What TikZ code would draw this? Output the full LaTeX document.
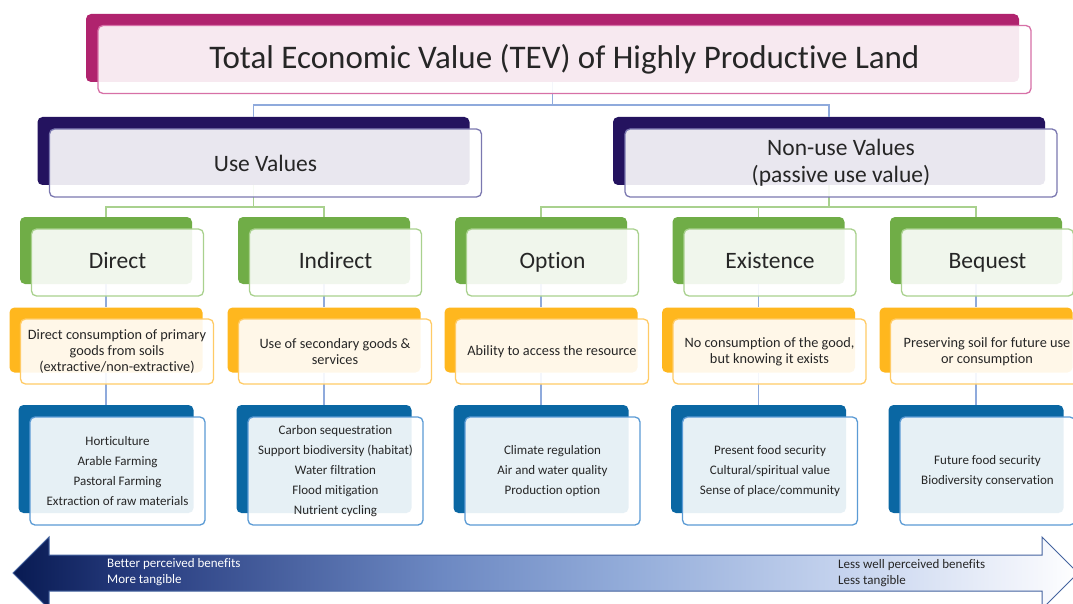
\documentclass[tikz,border=0pt]{standalone}
\usepackage{fontspec}
\setmainfont{Carlito}[Ligatures=CommonOff]

\definecolor{textgray}{HTML}{262626}
\definecolor{tevmagenta}{HTML}{B0236E}
\definecolor{tevmagentaline}{HTML}{D770A7}
\definecolor{tevnavy}{HTML}{24135F}
\definecolor{tevnavyline}{HTML}{7B78B0}
\definecolor{tevgreen}{HTML}{70AD47}
\definecolor{tevgreenline}{HTML}{A9D18E}
\definecolor{tevyellow}{HTML}{FFB71E}
\definecolor{tevyellowline}{HTML}{FFCB66}
\definecolor{tevblue}{HTML}{0A67A3}
\definecolor{tevblueline}{HTML}{5B9BD5}
\definecolor{linkblue}{HTML}{8FAADC}
\definecolor{linkgreen}{HTML}{A9D18E}
\definecolor{arrowA}{HTML}{081A52}
\definecolor{arrowB}{HTML}{283D80}
\definecolor{arrowC}{HTML}{6C88C2}
\definecolor{arrowD}{HTML}{94ADDA}
\definecolor{arrowE}{HTML}{C5D3EE}
\definecolor{arrowF}{HTML}{F4F6FC}
\definecolor{arrowedge}{HTML}{44639F}

\pgfdeclarehorizontalshading{tevarrowshade}{100bp}{color(0bp)=(arrowA); color(25bp)=(arrowA);
  color(31bp)=(arrowB); color(45bp)=(arrowC); color(54bp)=(arrowD); color(64bp)=(arrowE);
  color(73bp)=(arrowF); color(75bp)=(white); color(100bp)=(white)}

\tikzset{
  backbox/.style={fill=#1, rounded corners=5, inner sep=0},
  frontbox/.style={draw=#1, line width=1.3, fill=white, fill opacity=0.9, text opacity=1,
    rounded corners=5, inner sep=0, align=center, text=textgray},
  titlesize/.style={minimum width=933, minimum height=68},
  groupsize/.style={minimum width=432, minimum height=68},
  typesize/.style={minimum width=172, minimum height=67, text height=16, text depth=5},
  defsize/.style={minimum width=193, minimum height=65},
  exsize/.style={minimum width=175, minimum height=108},
  bluelink/.style={draw=linkblue, line width=1.5},
  greenlink/.style={draw=linkgreen, line width=1.5}
}

\begin{document}
\begin{tikzpicture}[x=1pt, y=-1pt]
\clip (0,0) rectangle (1073,604);
\fill[white] (0,0) rectangle (1073,604);

% back boxes
\node[backbox=tevmagenta, titlesize] (title) at (552.5,48) {};
\node[backbox=tevnavy, groupsize] (use) at (253.5,151) {};
\node[backbox=tevnavy, groupsize] (nonuse) at (829,151) {};

\node[backbox=tevgreen, typesize] (direct) at (106,250.5) {};
\node[backbox=tevgreen, typesize] (indirect) at (324,250.5) {};
\node[backbox=tevgreen, typesize] (option) at (541,250.5) {};
\node[backbox=tevgreen, typesize] (existence) at (758.5,250.5) {};
\node[backbox=tevgreen, typesize] (bequest) at (976,250.5) {};

\node[backbox=tevyellow, defsize] (directdef) at (106,340) {};
\node[backbox=tevyellow, defsize] (indirectdef) at (324,340) {};
\node[backbox=tevyellow, defsize] (optiondef) at (541,340) {};
\node[backbox=tevyellow, defsize] (existencedef) at (758.5,340) {};
\node[backbox=tevyellow, defsize] (bequestdef) at (976,340) {};

\node[backbox=tevblue, exsize] (directex) at (106,459) {};
\node[backbox=tevblue, exsize] (indirectex) at (324,459) {};
\node[backbox=tevblue, exsize] (optionex) at (541,459) {};
\node[backbox=tevblue, exsize] (existenceex) at (758.5,459) {};
\node[backbox=tevblue, exsize] (bequestex) at (976,459) {};

% connectors
\coordinate (j0) at (552.5,105);
\coordinate (j1) at (253.5,207);
\coordinate (j2) at (829,207);
\draw[bluelink] (title.south) -- (j0);
\draw[bluelink] (use.north) |- (j0) -| (nonuse.north);
\draw[greenlink] (use.south) -- (j1);
\draw[greenlink] (direct.north) |- (j1) -| (indirect.north);
\draw[greenlink] (nonuse.south) -- (j2);
\draw[greenlink] (option.north) |- (j2) -| (bequest.north);
\draw[greenlink] (existence.north) -- (existence.north |- j2);
\foreach \col in {direct,indirect,option,existence,bequest}{
  \draw[bluelink] (\col.south) -- (\col def.north);
  \draw[bluelink] (\col def.south) -- (\col ex.north);
}

% front boxes with the texts
\node[frontbox=tevmagentaline, titlesize, font=\fontsize{33}{38}\selectfont] (titletext)
  at ([shift={(12,11.5)}]title.center) {Total Economic Value (TEV) of Highly Productive Land};
\node[frontbox=tevnavyline, groupsize, font=\fontsize{23.5}{27}\selectfont] (usetext)
  at ([shift={(12,12)}]use.center) {Use Values};
\node[frontbox=tevnavyline, groupsize, font=\fontsize{23.5}{27}\selectfont] (nonusetext)
  at ([shift={(12,12)}]nonuse.center) {Non-use Values\\(passive use value)};

\node[frontbox=tevgreenline, typesize, font=\fontsize{23.5}{27}\selectfont] (directtext)
  at ([shift={(11.5,12)}]direct.center) {Direct};
\node[frontbox=tevgreenline, typesize, font=\fontsize{23.5}{27}\selectfont] (indirecttext)
  at ([shift={(11.5,12)}]indirect.center) {Indirect};
\node[frontbox=tevgreenline, typesize, font=\fontsize{23.5}{27}\selectfont] (optiontext)
  at ([shift={(11.5,12)}]option.center) {Option};
\node[frontbox=tevgreenline, typesize, font=\fontsize{23.5}{27}\selectfont] (existencetext)
  at ([shift={(11.5,12)}]existence.center) {Existence};
\node[frontbox=tevgreenline, typesize, font=\fontsize{23.5}{27}\selectfont] (bequesttext)
  at ([shift={(11.5,12)}]bequest.center) {Bequest};

\node[frontbox=tevyellowline, defsize, font=\fontsize{14.3}{16}\selectfont] (directdeftext)
  at ([shift={(11,11.5)}]directdef.center) {Direct consumption of primary\\goods from soils\\(extractive/non-extractive)};
\node[frontbox=tevyellowline, defsize, font=\fontsize{14.3}{16}\selectfont] (indirectdeftext)
  at ([shift={(11,11.5)}]indirectdef.center) {Use of secondary goods \&\\services};
\node[frontbox=tevyellowline, defsize, font=\fontsize{14.3}{16}\selectfont] (optiondeftext)
  at ([shift={(11,11.5)}]optiondef.center) {Ability to access the resource};
\node[frontbox=tevyellowline, defsize, font=\fontsize{14.3}{16}\selectfont] (existencedeftext)
  at ([shift={(11,11.5)}]existencedef.center) {No consumption of the good,\\but knowing it exists};
\node[frontbox=tevyellowline, defsize, font=\fontsize{14.3}{16}\selectfont] (bequestdeftext)
  at ([shift={(11,11.5)}]bequestdef.center) {Preserving soil for future use\\or consumption};

\node[frontbox=tevblueline, exsize, font=\fontsize{13}{20}\selectfont] (directextext)
  at ([shift={(11.5,12)}]directex.center) {Horticulture\\Arable Farming\\Pastoral Farming\\Extraction of raw materials};
\node[frontbox=tevblueline, exsize, font=\fontsize{13}{20}\selectfont] (indirectextext)
  at ([shift={(11.5,12)}]indirectex.center) {Carbon sequestration\\Support biodiversity (habitat)\\Water filtration\\Flood mitigation\\Nutrient cycling};
\node[frontbox=tevblueline, exsize, font=\fontsize{13}{20}\selectfont] (optionextext)
  at ([shift={(11.5,12)}]optionex.center) {Climate regulation\\Air and water quality\\Production option};
\node[frontbox=tevblueline, exsize, font=\fontsize{13}{20}\selectfont] (existenceextext)
  at ([shift={(11.5,12)}]existenceex.center) {Present food security\\Cultural/spiritual value\\Sense of place/community};
\node[frontbox=tevblueline, exsize, font=\fontsize{13}{20}\selectfont] (bequestextext)
  at ([shift={(11.5,12)}]bequestex.center) {Future food security\\Biodiversity conservation};

% tangibility arrow
\shadedraw[shading=tevarrowshade, draw=arrowedge, line width=1]
  (13,573) -- (49,537) -- (49,555) -- (1042,555) -- (1042,537) -- (1078,573)
  -- (1042,609) -- (1042,591) -- (49,591) -- (49,609) -- cycle;
\node[anchor=west, align=left, text=white, inner sep=0, font=\fontsize{13}{16}\selectfont] (better)
  at (107,572) {Better perceived benefits\\More tangible};
\node[anchor=west, align=left, text=textgray, inner sep=0, font=\fontsize{13}{16}\selectfont] (less)
  at (838,573) {Less well perceived benefits\\Less tangible};
\end{tikzpicture}
\end{document}
